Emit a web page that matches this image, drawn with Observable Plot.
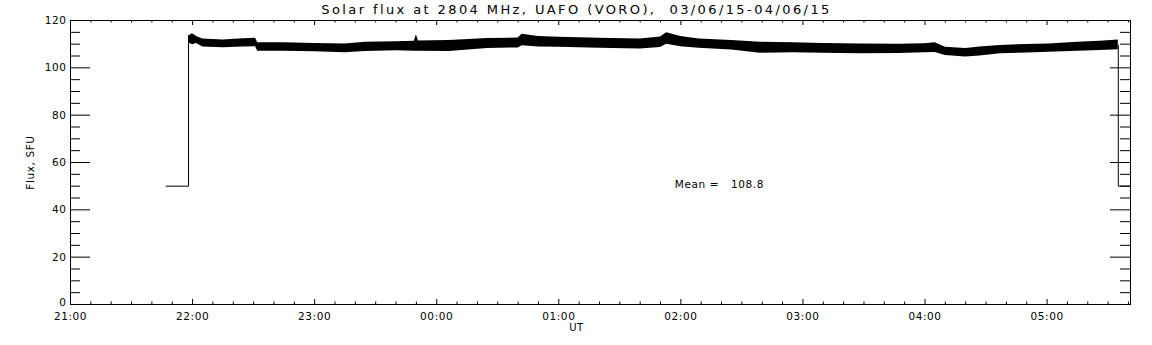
<!DOCTYPE html>
<html>
<head>
<meta charset="utf-8">
<script src="https://cdn.jsdelivr.net/npm/d3@7"></script>
<script src="https://cdn.jsdelivr.net/npm/@observablehq/plot@0.6"></script>
<style>
  html, body { margin: 0; padding: 0; background: #fff; }
  #chart svg { display: block; }
</style>
</head>
<body>
<div id="chart"></div>
<script>
// ---- data ----
const titleText = "Solar flux at 2804 MHz, UAFO (VORO),  03/06/15-04/06/15";
const xLabel = "UT";
const yLabel = "Flux, SFU";
const meanLabel = "Mean =   108.8";
const meanAt = "01:57";
const meanValue = 50.8;

const xTickLabels = ["21:00","22:00","23:00","00:00","01:00","02:00","03:00","04:00","05:00"];
const yTickValues = [0, 20, 40, 60, 80, 100, 120];
const yMinorValues = [5,10,15,25,30,35,45,50,55,65,70,75,85,90,95,105,110,115];
const xStart = "21:00";
const xEnd = "05:41";

// noisy flux band: lower / upper envelope
const bandTimes = ["21:58","22:00","22:02","22:05","22:15","22:25","22:31","22:32","22:45","23:00","23:15","23:25","23:40","23:49","23:50","23:51","00:06","00:25","00:40","00:42","00:50","01:00","01:20","01:40","01:50","01:53","02:00","02:09","02:25","02:39","02:55","03:10","03:28","03:47","04:00","04:05","04:10","04:20","04:27","04:37","04:50","05:01","05:15","05:26","05:35"];
const bandLow  = [110.5,109.8,110.3,108.8,108.5,108.8,108.9,107.0,107.0,106.8,106.4,106.9,107.2,107.0,107.0,107.0,106.9,108.2,108.4,109.3,108.8,108.7,108.3,108.0,108.6,110.0,108.9,108.3,107.5,106.2,106.4,106.2,105.9,106.1,106.4,106.5,105.2,104.6,105.0,105.9,106.3,106.6,107.0,107.3,107.6];
const bandHigh = [113.5,114.4,113.2,112.2,111.8,112.3,112.5,110.6,110.6,110.3,110.1,110.8,111.0,111.2,114.0,111.3,111.5,112.4,112.6,114.2,113.2,112.9,112.5,112.2,113.0,114.8,113.2,112.2,111.5,110.8,110.6,110.3,110.1,110.0,110.2,110.6,108.7,108.2,108.8,109.4,109.9,110.1,110.8,111.2,111.8];

// fill value segments before / after the observation
const startTimes = ["21:47","21:58","21:58"];
const startValues = [50, 50, 111.0];
const endTimes = ["05:35","05:35","05:41"];
const endValues = [109.6, 50, 50];

// ---- helpers ----
const hrs = s => { const [h, m] = s.split(":").map(Number); return (h < 21 ? h + 24 : h) - 21 + m / 60; };
const band = bandTimes.map((t, i) => ({x: hrs(t), lo: bandLow[i], hi: bandHigh[i]}));
const startLine = startTimes.map((t, i) => ({x: hrs(t), y: startValues[i]}));
const endLine = endTimes.map((t, i) => ({x: hrs(t), y: endValues[i]}));
const xMajor = xTickLabels.map(hrs);
const xMinor = d3.range(0, Math.round(hrs(xEnd) * 6) + 1).map(i => i / 6).filter(v => Math.abs(v - Math.round(v)) > 1e-6);

const W = 1152, H = 345, mL = 70, mR = 22, mT = 20, mB = 41;
const pw = W - mL - mR, ph = H - mT - mB;
const font = "DejaVu Sans, sans-serif";
const cx = 576 - (mL + pw / 2);

const chart = Plot.plot({
  width: W, height: H,
  marginLeft: mL, marginRight: mR, marginTop: mT, marginBottom: mB,
  style: {fontFamily: font, background: "#fff", color: "#000"},
  x: {domain: [hrs(xStart), hrs(xEnd)], axis: null},
  y: {domain: [0, 120], axis: null},
  marks: [
    Plot.areaY(band, {x: "x", y1: "lo", y2: "hi", fill: "#000", curve: "linear"}),
    Plot.line(startLine, {x: "x", y: "y", stroke: "#000", strokeWidth: 1}),
    Plot.line(endLine, {x: "x", y: "y", stroke: "#000", strokeWidth: 1}),
    Plot.frame({stroke: "#000", strokeWidth: 1}),
    // y ticks, left and right, inward
    Plot.ruleY(yTickValues, {stroke: "#000", insetRight: pw - 20}),
    Plot.ruleY(yMinorValues, {stroke: "#000", insetRight: pw - 10}),
    Plot.ruleY(yTickValues, {stroke: "#000", insetLeft: pw - 20}),
    Plot.ruleY(yMinorValues, {stroke: "#000", insetLeft: pw - 10}),
    // x ticks, bottom and top, inward
    Plot.ruleX(xMajor, {stroke: "#000", insetTop: ph - 5}),
    Plot.ruleX(xMinor, {stroke: "#000", insetTop: ph - 2.5}),
    Plot.ruleX(xMajor, {stroke: "#000", insetBottom: ph - 5}),
    Plot.ruleX(xMinor, {stroke: "#000", insetBottom: ph - 2.5}),
    // y tick labels
    Plot.text(yTickValues.filter(v => v > 0), {y: d => d, text: d => String(d), frameAnchor: "left", dx: -4, textAnchor: "end", lineAnchor: "middle", fontSize: 10.5, fill: "#000"}),
    Plot.text([0], {y: d => d, text: d => String(d), frameAnchor: "left", dx: -4, dy: 1, textAnchor: "end", lineAnchor: "bottom", fontSize: 10.5, fill: "#000"}),
    // x tick labels
    Plot.text(xTickLabels, {x: d => hrs(d), text: d => d, frameAnchor: "bottom", dy: 12, lineAnchor: "middle", fontSize: 10.5, fill: "#000"}),
    // axis titles
    Plot.text([xLabel], {frameAnchor: "bottom", dx: cx, dy: 23, lineAnchor: "middle", fontSize: 10, fill: "#000"}),
    Plot.text([yLabel], {y: () => 60, frameAnchor: "left", dx: -40, rotate: -90, textAnchor: "middle", lineAnchor: "middle", fontSize: 10.5, fill: "#000"}),
    // title
    Plot.text([titleText], {frameAnchor: "top", dx: cx, dy: -11, lineAnchor: "middle", fontSize: 13, fill: "#000", className: "ttl"}),
    // mean annotation
    Plot.text([meanLabel], {x: hrs(meanAt), y: meanValue, textAnchor: "start", lineAnchor: "middle", fontSize: 10.5, fill: "#000"})
  ]
});
d3.select(chart).selectAll("text").style("letter-spacing", "0.6px");
d3.select(chart).selectAll(".ttl text").style("letter-spacing", "2.4px");
document.getElementById("chart").append(chart);
</script>
</body>
</html>
